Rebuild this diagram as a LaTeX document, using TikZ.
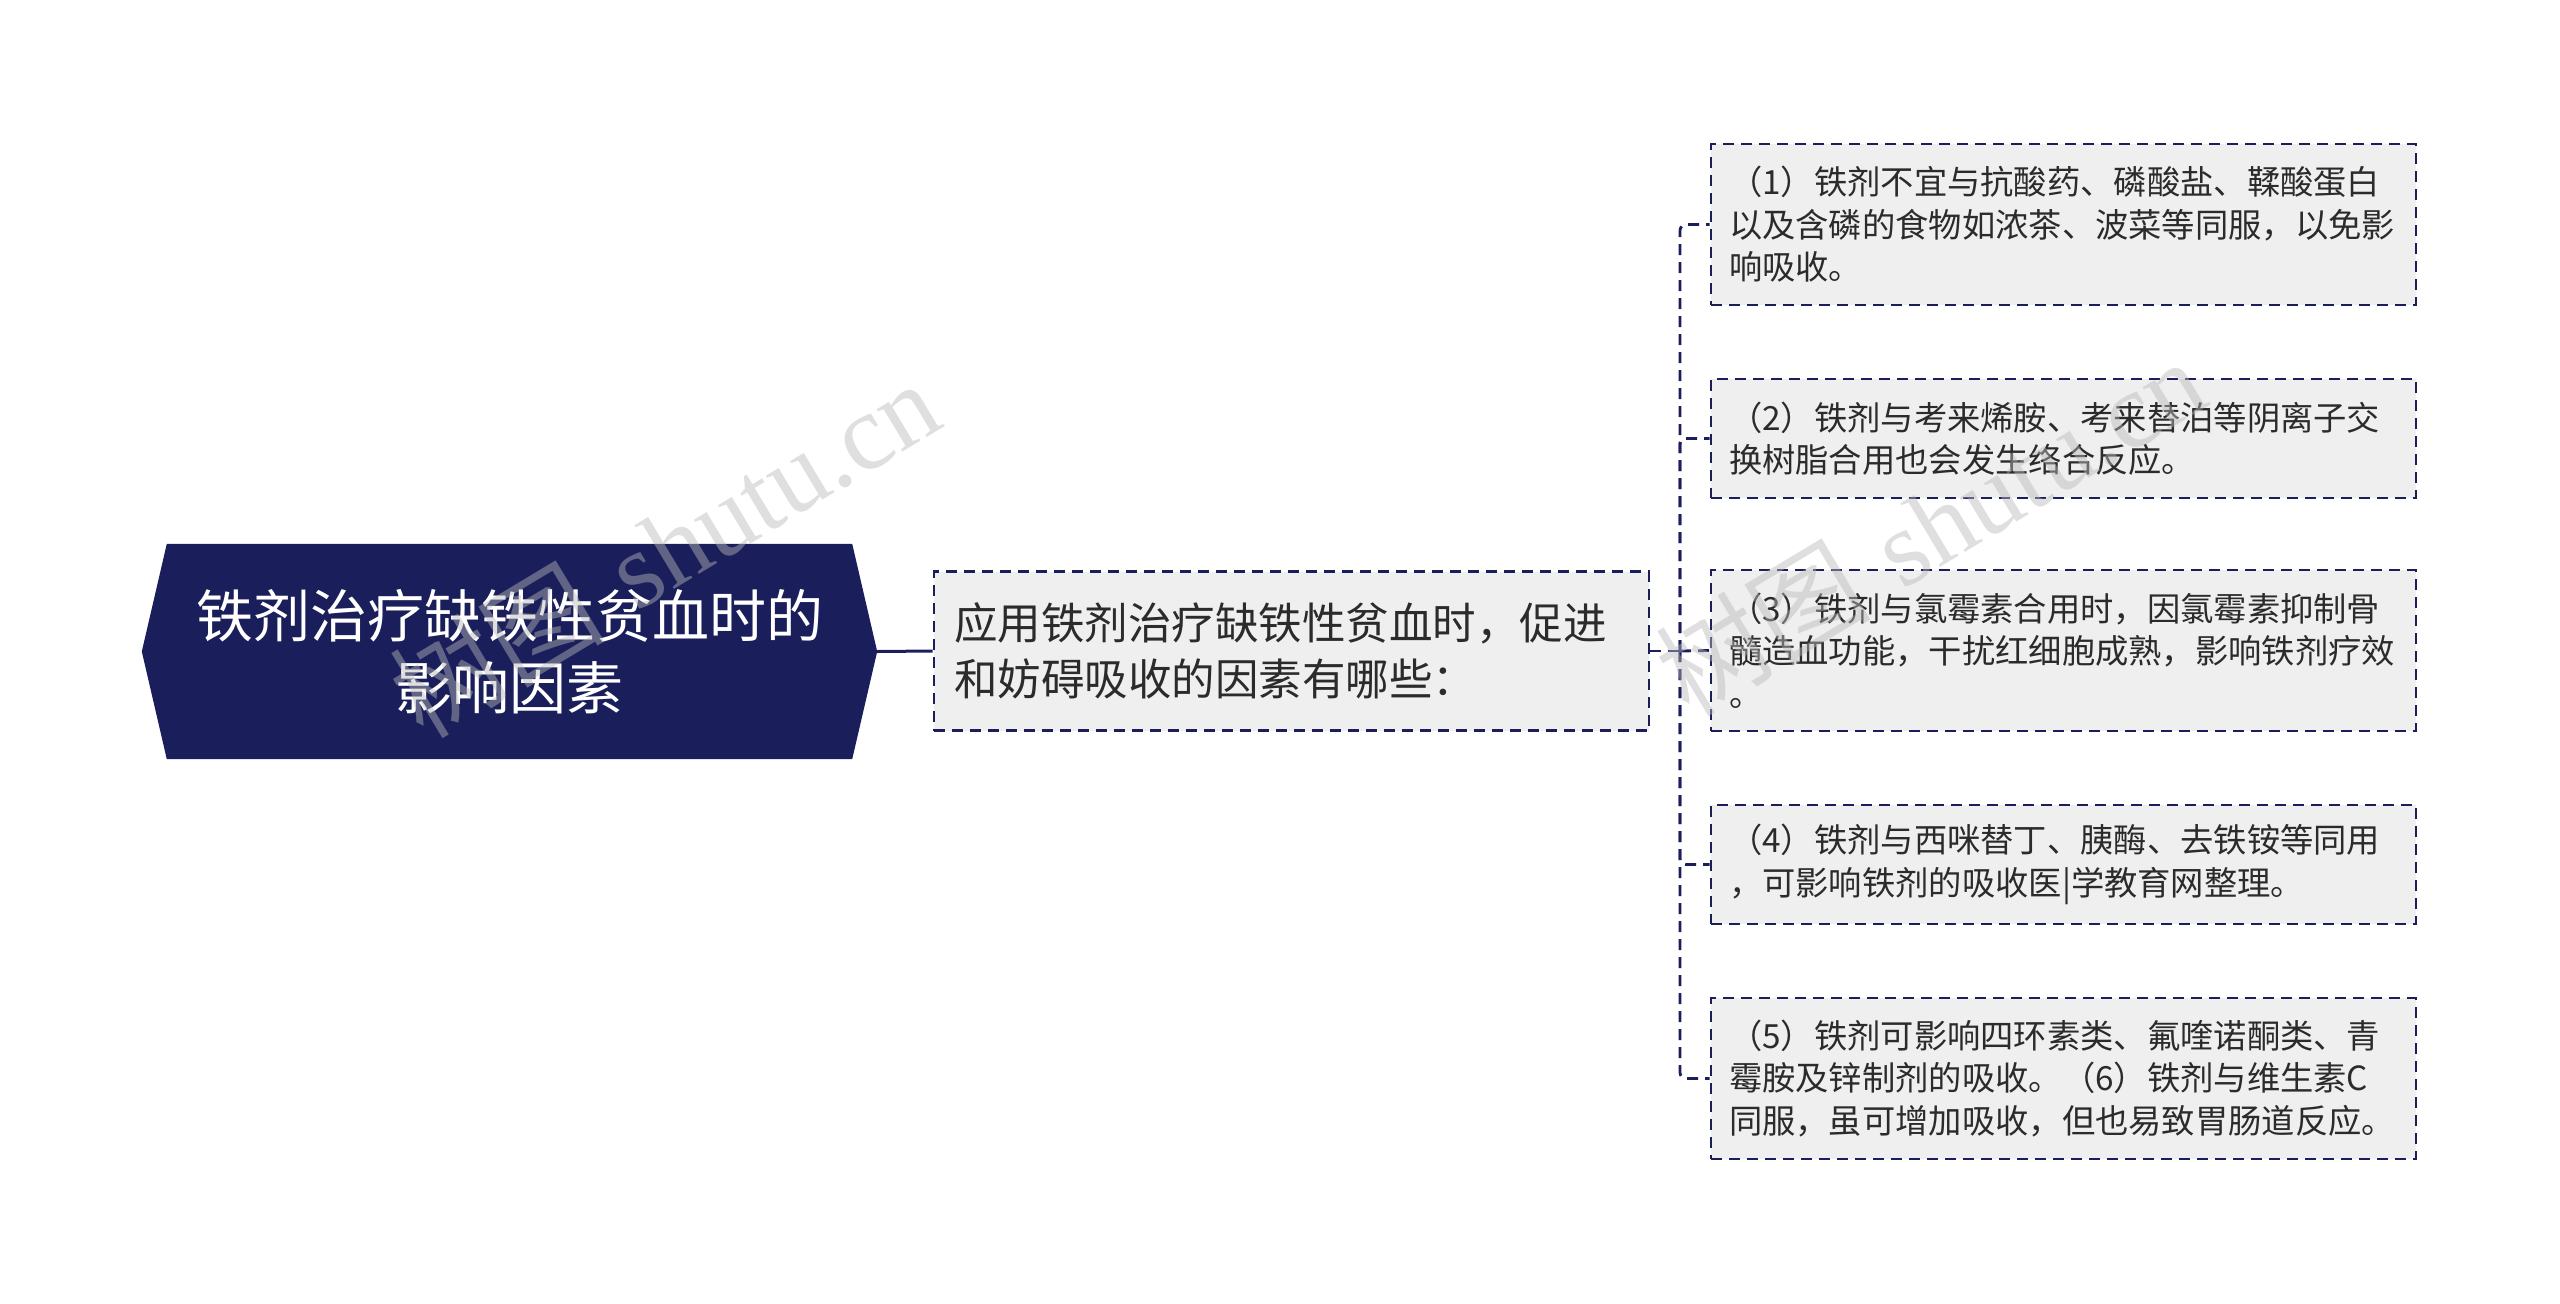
\documentclass[tikz,border=0pt]{standalone}
\usepackage{fontspec}
\newfontfamily\cjk{Noto Sans CJK SC}
\newfontfamily\wmserif{Liberation Serif}
\usetikzlibrary{calc,backgrounds}
\definecolor{navy}{HTML}{1A1F5C}
\definecolor{boxfill}{HTML}{EFEFEF}
\definecolor{txt}{HTML}{2B2B2B}
\begin{document}
\begin{tikzpicture}[x=1pt,y=-1pt,
  dashline/.style={draw=navy,line width=2.8pt,dash pattern=on 11pt off 7pt},
  conn/.style={dashline,rounded corners=6pt},
  leaf/.style={dashline,fill=boxfill,text width=669pt,inner xsep=18pt,inner ysep=0pt,
    align=left,font=\cjk\fontsize{33.3}{42.5}\selectfont,text=txt,minimum height=#1},
  midbox/.style={dashline,fill=boxfill,text width=675pt,inner xsep=20pt,inner ysep=0pt,
    align=left,font=\cjk\fontsize{43.5}{55.5}\selectfont,text=txt,minimum height=159pt},
  rootbox/.style={minimum width=735pt,minimum height=215pt,inner sep=0pt,align=center,
    text=white,font=\cjk\fontsize{57}{72}\selectfont},
  wm/.style={text=gray!55,opacity=0.45,rotate=31,font=\fontsize{108}{118}\selectfont}
]
\useasboundingbox (0,0) rectangle (2560,1304);

\node[rootbox] (root) at (509.5,651.5) {铁剂治疗缺铁性贫血时的\\影响因素};
\begin{scope}[on background layer]
\fill[navy] (root.west) -- ($(root.north west)+(25,0)$) -- ($(root.north east)+(-25,0)$)
  -- (root.east) -- ($(root.south east)+(-25,0)$) -- ($(root.south west)+(25,0)$) -- cycle;
\end{scope}

\node[midbox] (mid) at (1291.5,651) {应用铁剂治疗缺铁性贫血时，促进\\和妨碍吸收的因素有哪些：};

\node[leaf=161pt] (b1) at (2063.5,224.5) {（1）铁剂不宜与抗酸药、磷酸盐、鞣酸蛋白\\以及含磷的食物如浓茶、波菜等同服，以免影\\响吸收。};
\node[leaf=119pt] (b2) at (2063.5,438.5) {（2）铁剂与考来烯胺、考来替泊等阴离子交\\换树脂合用也会发生络合反应。};
\node[leaf=161pt] (b3) at (2063.5,650.5) {（3）铁剂与氯霉素合用时，因氯霉素抑制骨\\髓造血功能，干扰红细胞成熟，影响铁剂疗效\\。};
\node[leaf=119pt] (b4) at (2063.5,864.5) {（4）铁剂与西咪替丁、胰酶、去铁铵等同用\\，可影响铁剂的吸收医|学教育网整理。};
\node[leaf=161pt] (b5) at (2063.5,1078.5) {（5）铁剂可影响四环素类、氟喹诺酮类、青\\霉胺及锌制剂的吸收。（6）铁剂与维生素C\\同服，虽可增加吸收，但也易致胃肠道反应。};

\coordinate (j) at (1680,651);
\draw[navy,line width=3pt] (root.east) -- (mid.west);
\draw[dashline] (mid.east) -- (j);
\draw[conn] (j) |- (b1.west);
\draw[conn] (j) |- (b2.west);
\draw[conn] (j) -- (b3.west);
\draw[conn] (j) |- (b4.west);
\draw[conn] (j) |- (b5.west);

\node[wm] (wm1) at (664,548) {{\cjk 树图} {\wmserif shutu.cn}};
\node[wm] (wm2) at (1930,526) {{\cjk 树图} {\wmserif shutu.cn}};
\end{tikzpicture}
\end{document}
